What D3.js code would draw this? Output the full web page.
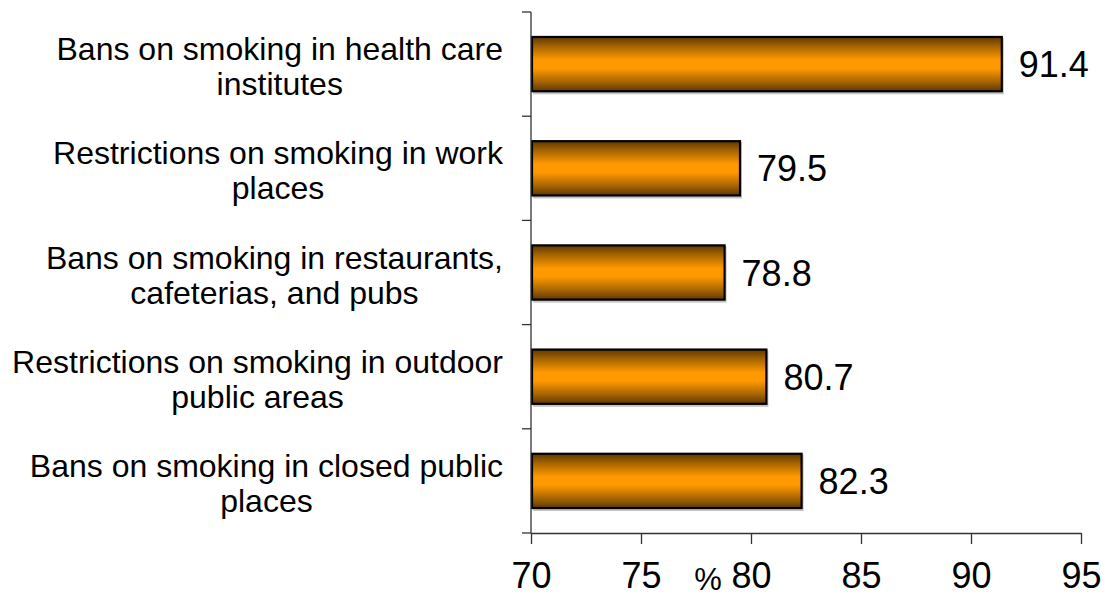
<!DOCTYPE html>
<html>
<head>
<meta charset="utf-8">
<script src="https://cdn.jsdelivr.net/npm/d3@7"></script>
<style>
  html, body { margin: 0; padding: 0; background: #fff; }
  svg { display: block; font-family: "Liberation Sans", Arial, sans-serif; }
</style>
</head>
<body>
<svg id="chart" width="1105" height="599"></svg>
<script>
// Support for tobacco-control measures (%)
const categories = [
  ["Bans on smoking in health care", "institutes"],
  ["Restrictions on smoking in work", "places"],
  ["Bans on smoking in restaurants,", "cafeterias, and pubs"],
  ["Restrictions on smoking in outdoor", "public areas"],
  ["Bans on smoking in closed public", "places"]
];
const values = [91.4, 79.5, 78.8, 80.7, 82.3];
const xTicks = [70, 75, 80, 85, 90, 95];
const xDomain = [70, 95];
const unitLabel = "%";

const svg = d3.select("#chart");
const plotLeft = 531, plotRight = 1081, plotTop = 12, plotBottom = 533;

const keys = categories.map((c, i) => i);
const x = d3.scaleLinear().domain(xDomain).range([plotLeft, plotRight]);
const y = d3.scaleBand().domain(keys).range([plotTop, plotBottom])
  .paddingInner(0.46).paddingOuter(0.23);
const step = y.step();

// vertical gradient: dark edges, bright orange centre
const defs = svg.append("defs");
const grad = defs.append("linearGradient").attr("id", "barFill")
  .attr("x1", 0).attr("y1", 0).attr("x2", 0).attr("y2", 1);
[[0, "#5e3a00"], [0.18, "#a86500"], [0.42, "#ff9900"], [0.58, "#ff9900"], [0.82, "#a86500"], [1, "#5e3a00"]]
  .forEach(([o, c]) => grad.append("stop").attr("offset", o).attr("stop-color", c));

// bar shadows
svg.append("g").selectAll("rect").data(values).join("rect")
  .attr("x", x(xDomain[0]) + 2)
  .attr("y", (d, i) => y(i) + 2)
  .attr("width", d => x(d) - x(xDomain[0]))
  .attr("height", y.bandwidth())
  .attr("fill", "#c4c4c4");

// bars
svg.append("g").selectAll("rect").data(values).join("rect")
  .attr("x", x(xDomain[0]) + 1)
  .attr("y", (d, i) => y(i) + 1)
  .attr("width", d => x(d) - x(xDomain[0]) - 1)
  .attr("height", y.bandwidth() - 2)
  .attr("fill", "url(#barFill)")
  .attr("stroke", "#000")
  .attr("stroke-width", 2.2);

// value labels
svg.append("g").selectAll("text").data(values).join("text")
  .attr("x", d => x(d) + 17)
  .attr("y", (d, i) => y(i) + y.bandwidth() / 2 + 13)
  .attr("font-size", 36)
  .attr("fill", "#000")
  .text(d => d.toFixed(1));

// y axis with ticks at band boundaries
const axisColor = "#333";
const yAxis = svg.append("g");
yAxis.append("line")
  .attr("x1", plotLeft).attr("x2", plotLeft).attr("y1", plotTop).attr("y2", plotBottom)
  .attr("stroke", axisColor).attr("stroke-width", 1.3);
yAxis.selectAll("line.tick").data(d3.range(categories.length + 1)).join("line")
  .attr("class", "tick")
  .attr("x1", plotLeft - 9).attr("x2", plotLeft)
  .attr("y1", i => plotTop + i * step).attr("y2", i => plotTop + i * step)
  .attr("stroke", axisColor).attr("stroke-width", 1.3);

// x axis
const xAxis = svg.append("g").attr("transform", `translate(0,${plotBottom})`)
  .call(d3.axisBottom(x).tickValues(xTicks).tickSize(11).tickSizeOuter(0).tickPadding(18));
xAxis.select(".domain").attr("stroke", axisColor).attr("stroke-width", 1.3);
xAxis.selectAll(".tick line").attr("stroke", axisColor).attr("stroke-width", 1.3);
xAxis.selectAll(".tick text")
  .attr("font-size", 36)
  .attr("font-family", "Liberation Sans, Arial, sans-serif")
  .attr("fill", "#000");

svg.append("text")
  .attr("x", 708).attr("y", 590)
  .attr("text-anchor", "middle")
  .attr("font-size", 31)
  .attr("fill", "#000")
  .text(unitLabel);

// category labels: centred lines, block kept clear of the axis
const labelRight = 503, labelCentre = 280, lineGap = 35;
const labels = svg.append("g");
categories.forEach((lines, i) => {
  const g = labels.append("g");
  const cy = y(i) + y.bandwidth() / 2;
  const texts = lines.map((ln, j) => g.append("text")
    .attr("y", cy - 4 + j * lineGap)
    .attr("text-anchor", "middle")
    .attr("font-size", 32)
    .attr("fill", "#000")
    .text(ln));
  const maxW = d3.max(texts, t => t.node().getComputedTextLength());
  const cx = Math.min(labelCentre, labelRight - maxW / 2);
  texts.forEach(t => t.attr("x", cx));
});
</script>
</body>
</html>
